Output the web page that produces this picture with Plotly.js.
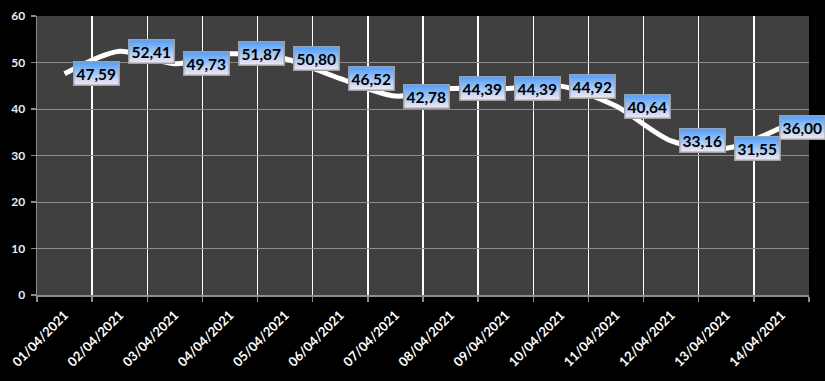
<!DOCTYPE html>
<html>
<head>
<meta charset="utf-8">
<script src="https://cdn.plot.ly/plotly-3.0.1.min.js"></script>
<style>
html,body{margin:0;padding:0;background:#000;}
#chart{width:825px;height:381px;}
</style>
</head>
<body>
<div id="chart"></div>
<script>
const dates = ["01/04/2021","02/04/2021","03/04/2021","04/04/2021","05/04/2021","06/04/2021","07/04/2021","08/04/2021","09/04/2021","10/04/2021","11/04/2021","12/04/2021","13/04/2021","14/04/2021"];
const values = [47.59,52.41,49.73,51.87,50.80,46.52,42.78,44.39,44.39,44.92,40.64,33.16,31.55,36.00];
const yTicks = [0,10,20,30,40,50,60];

const annotations = values.map((v,i)=>({
  x: dates[i], y: v, xref:'x', yref:'y',
  text: v.toFixed(2).replace('.',','),
  showarrow:false, xanchor:'left', yanchor:'middle',
  xshift: i === values.length-1 ? -2 : 8,
  font:{family:'Lato, sans-serif', size:15.5, color:'#000', weight:'bold'},
  bgcolor:'#9cc6f8', bordercolor:'#a0a0a0', borderwidth:1.5, borderpad:2
}));

const trace = {
  x: dates, y: values, type:'scatter', mode:'lines',
  line:{color:'#ffffff', width:5, shape:'spline', smoothing:0.8},
  hoverinfo:'skip'
};

const layout = {
  width:825, height:381,
  paper_bgcolor:'#000000', plot_bgcolor:'#404040',
  margin:{l:37, r:16, t:16, b:86},
  showlegend:false,
  xaxis:{
    type:'category', range:[-0.5,13.5], tickson:'boundaries',
    ticks:'outside', ticklen:5, tickcolor:'#8c8c8c', tickwidth:1.5,
    showline:true, linecolor:'#8c8c8c', linewidth:1.5,
    showgrid:true, gridcolor:'#ffffff', gridwidth:1.5,
    tickangle:-45, ticklabelstandoff:6,
    tickfont:{family:'Lato, sans-serif', size:13, color:'#ffffff', weight:'bold'},
    fixedrange:true
  },
  yaxis:{
    range:[0,60], tickvals:yTicks, ticktext:yTicks.map(String),
    ticks:'outside', ticklen:5, tickcolor:'#8c8c8c', tickwidth:1.5,
    showline:true, linecolor:'#8c8c8c', linewidth:1.5,
    showgrid:true, gridcolor:'#8c8c8c', gridwidth:1,
    zeroline:false, ticklabelstandoff:3,
    tickfont:{family:'Lato, sans-serif', size:12, color:'#e4ecff', weight:'bold'},
    fixedrange:true
  },
  annotations: annotations
};

Plotly.newPlot('chart',[trace],layout,{displayModeBar:false,staticPlot:true}).then(gd=>{
  const svgNS='http://www.w3.org/2000/svg';
  const svg = gd.querySelector('svg.main-svg');
  let defs = svg.querySelector('defs');
  if(!defs){defs=document.createElementNS(svgNS,'defs');svg.insertBefore(defs,svg.firstChild);}
  const g=document.createElementNS(svgNS,'linearGradient');
  g.setAttribute('id','lblgrad');g.setAttribute('x1','0');g.setAttribute('y1','0');g.setAttribute('x2','0');g.setAttribute('y2','1');
  [['0%','#4f9cfc'],['55%','#a4cbf8'],['100%','#f6e8f4']].forEach(([o,c])=>{
    const s=document.createElementNS(svgNS,'stop');s.setAttribute('offset',o);s.setAttribute('stop-color',c);g.appendChild(s);
  });
  defs.appendChild(g);
  gd.querySelectorAll('.annotation rect.bg').forEach(r=>{r.style.fill='url(#lblgrad)';});
});
</script>
</body>
</html>
